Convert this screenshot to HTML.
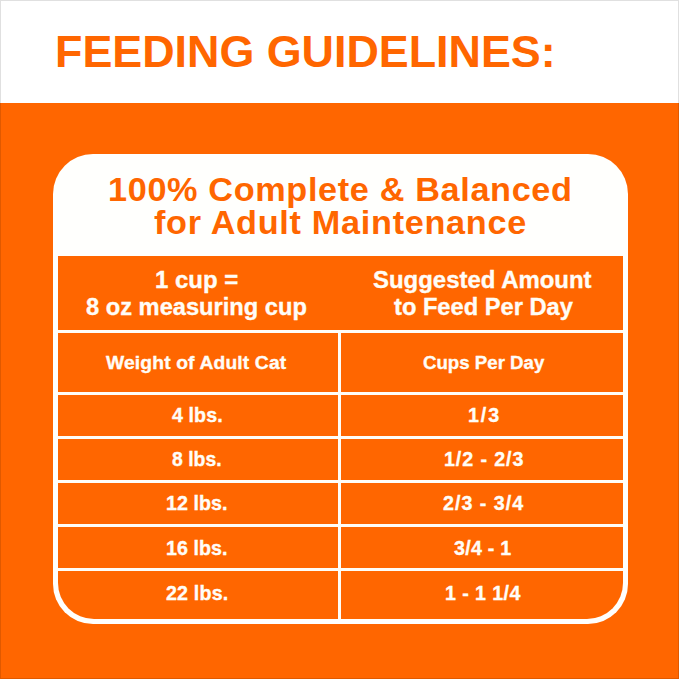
<!DOCTYPE html>
<html><head><meta charset="utf-8">
<style>
html,body{margin:0;padding:0;}
body{width:679px;height:679px;position:relative;overflow:hidden;background:#ff6600;font-family:"Liberation Sans",sans-serif;font-weight:bold;}
.top{position:absolute;left:0;top:0;width:679px;height:103px;background:#fff;}
.bl{position:absolute;background:#e0e0e0;}
.card{position:absolute;left:53px;top:154px;width:575px;height:470px;border-radius:40px;background:#fffffd;}
.tbl{position:absolute;left:58px;top:256px;width:565px;height:363px;background:#ff6600;border-radius:0 0 36px 36px;}
.h{position:absolute;left:58px;width:565px;height:3px;background:#fffdf7;}
.v{position:absolute;left:338px;top:333px;width:3px;height:286px;background:#fffdf7;}
.t{position:absolute;white-space:nowrap;line-height:1;transform-origin:0 0;}
.w{-webkit-text-stroke:0.35px currentColor;}
</style></head><body>
<div class="top"></div>
<div class="card"></div>
<div class="tbl"></div>
<div class="h" style="top:330px"></div>
<div class="h" style="top:392px"></div>
<div class="h" style="top:436px"></div>
<div class="h" style="top:480px"></div>
<div class="h" style="top:524px"></div>
<div class="h" style="top:568px"></div>
<div class="v"></div>
<div class="t o" style="left:55.00px;top:30.49px;font-size:44.9px;color:#ff6600;letter-spacing:0.000px;transform:scaleX(0.9986)">FEEDING GUIDELINES:</div>
<div class="t o" style="left:108.16px;top:172.96px;font-size:33.6px;color:#ff6600;letter-spacing:0.629px;transform:scaleX(1.0200)">100% Complete &amp; Balanced</div>
<div class="t o" style="left:154.10px;top:205.96px;font-size:33.6px;color:#ff6600;letter-spacing:0.681px;transform:scaleX(1.0200)">for Adult Maintenance</div>
<div class="t w" style="left:154.98px;top:268.91px;font-size:23.5px;color:#fffdf7;letter-spacing:0.016px;transform:scaleX(1.0200)">1 cup =</div>
<div class="t w" style="left:86.09px;top:295.91px;font-size:23.5px;color:#fffdf7;letter-spacing:-0.000px;transform:scaleX(1.0069)">8 oz measuring cup</div>
<div class="t w" style="left:372.98px;top:268.91px;font-size:23.5px;color:#fffdf7;letter-spacing:0.000px;transform:scaleX(1.0187)">Suggested Amount</div>
<div class="t w" style="left:393.60px;top:295.91px;font-size:23.5px;color:#fffdf7;letter-spacing:0.000px;transform:scaleX(1.0067)">to Feed Per Day</div>
<div class="t w" style="left:106.20px;top:353.80px;font-size:18.9px;color:#fffdf7;letter-spacing:0.137px;transform:scaleX(1.0200)">Weight of Adult Cat</div>
<div class="t w" style="left:422.71px;top:353.80px;font-size:18.9px;color:#fffdf7;letter-spacing:0.000px;transform:scaleX(0.9877)">Cups Per Day</div>
<div class="t w" style="left:171.90px;top:406.36px;font-size:19.3px;color:#fffdf7;letter-spacing:0.067px;transform:scaleX(1.0200)">4 lbs.</div>
<div class="t w" style="left:467.58px;top:406.36px;font-size:19.3px;color:#fffdf7;letter-spacing:1.863px;transform:scaleX(1.0200)">1/3</div>
<div class="t w" style="left:172.40px;top:450.36px;font-size:19.3px;color:#fffdf7;letter-spacing:0.000px;transform:scaleX(1.0062)">8 lbs.</div>
<div class="t w" style="left:443.88px;top:450.36px;font-size:19.3px;color:#fffdf7;letter-spacing:0.885px;transform:scaleX(1.0200)">1/2 - 2/3</div>
<div class="t w" style="left:166.38px;top:494.36px;font-size:19.3px;color:#fffdf7;letter-spacing:0.056px;transform:scaleX(1.0200)">12 lbs.</div>
<div class="t w" style="left:442.98px;top:494.36px;font-size:19.3px;color:#fffdf7;letter-spacing:0.980px;transform:scaleX(1.0200)">2/3 - 3/4</div>
<div class="t w" style="left:166.08px;top:539.16px;font-size:19.3px;color:#fffdf7;letter-spacing:0.056px;transform:scaleX(1.0200)">16 lbs.</div>
<div class="t w" style="left:453.50px;top:539.16px;font-size:19.3px;color:#fffdf7;letter-spacing:0.232px;transform:scaleX(1.0200)">3/4 - 1</div>
<div class="t w" style="left:165.78px;top:583.86px;font-size:19.3px;color:#fffdf7;letter-spacing:0.170px;transform:scaleX(1.0200)">22 lbs.</div>
<div class="t w" style="left:445.18px;top:583.86px;font-size:19.3px;color:#fffdf7;letter-spacing:0.392px;transform:scaleX(1.0200)">1 - 1 1/4</div>
<div style="position:absolute;left:0;top:0;width:679px;height:679px;box-shadow:inset 0 0 0 1px rgba(0,0,0,0.12);"></div>
</body></html>
